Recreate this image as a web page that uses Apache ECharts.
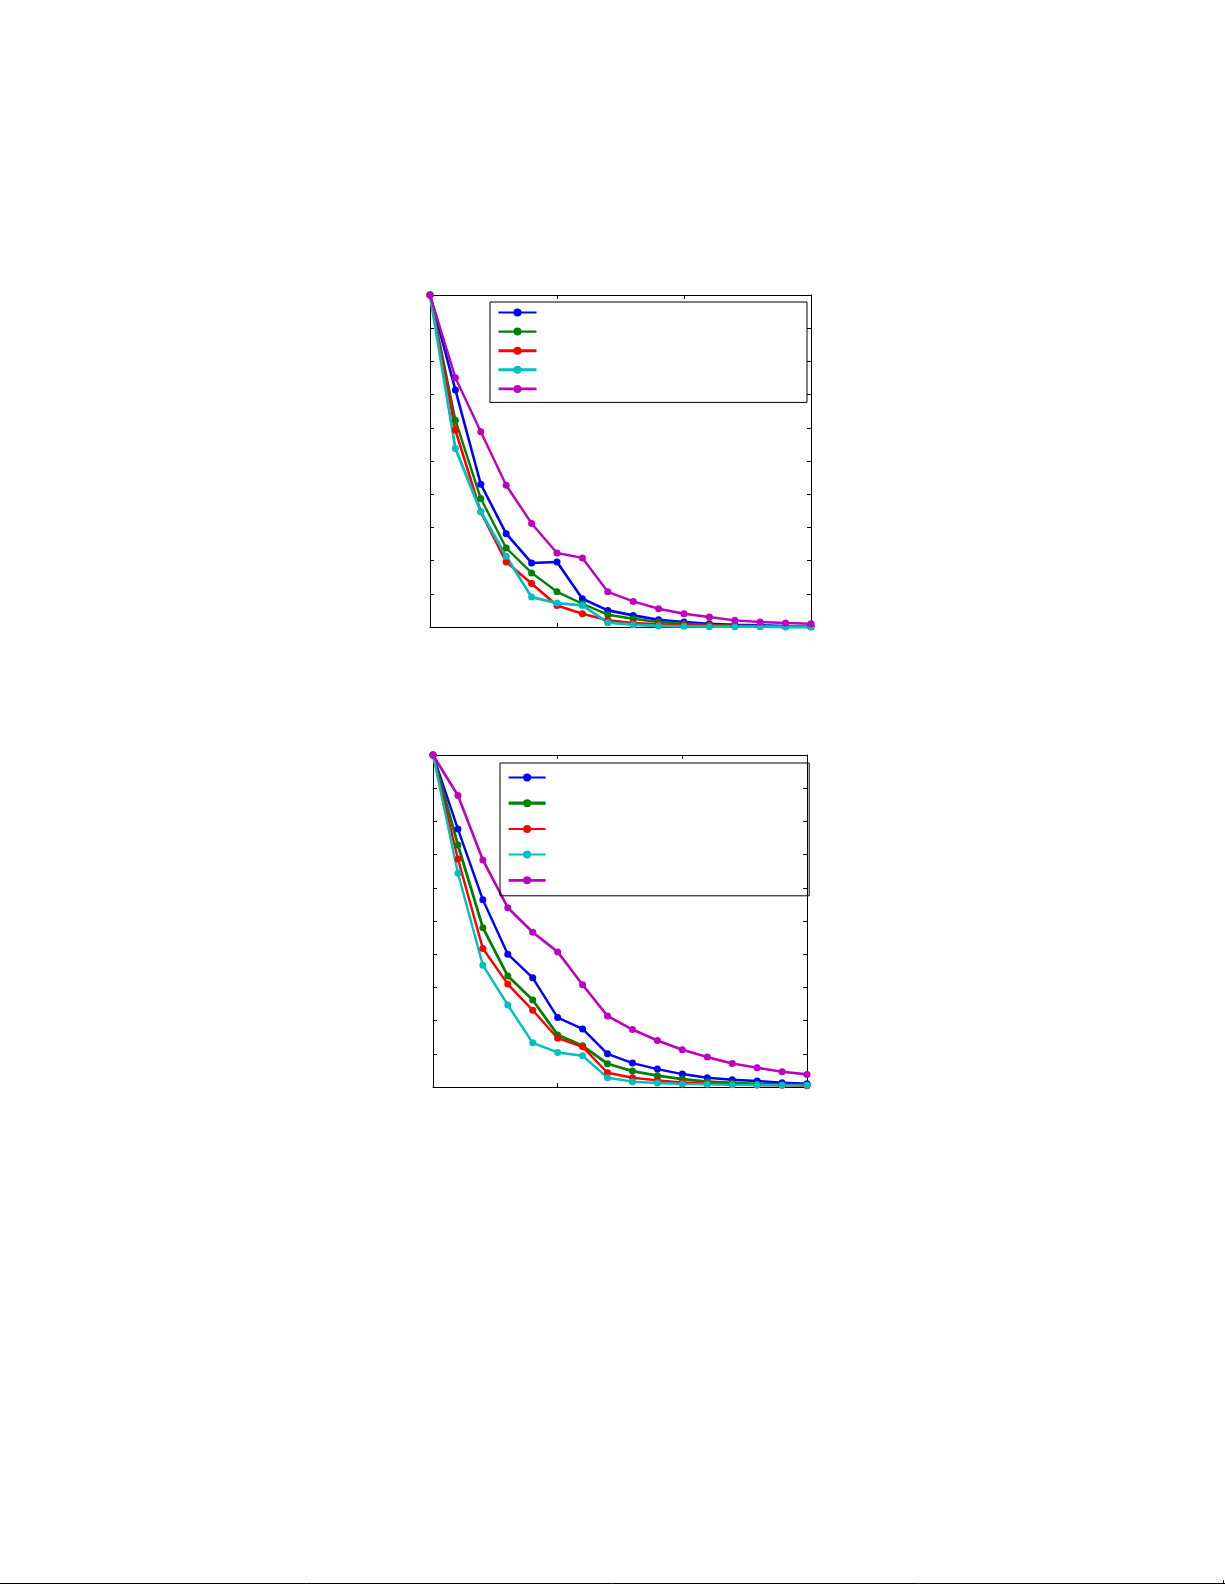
<!DOCTYPE html>
<html>
<head>
<meta charset="utf-8">
<script src="https://cdn.jsdelivr.net/npm/echarts@6/dist/echarts.min.js"></script>
<style>
  html, body { margin: 0; padding: 0; background: #fff; }
  #chart { width: 1225px; height: 1585px; }
</style>
</head>
<body>
<div id="chart"></div>
<script>
// x positions (iterations), ticks every 5
const steps = [0, 1, 2, 3, 4, 5, 6, 7, 8, 9, 10, 11, 12, 13, 14, 15];

// upper panel
const p1Blue    = [1.0, 0.714, 0.430, 0.281, 0.193, 0.196, 0.085, 0.050, 0.035, 0.022, 0.015, 0.010, 0.007, 0.005, 0.003, 0.002];
const p1Green   = [1.0, 0.623, 0.387, 0.238, 0.163, 0.106, 0.070, 0.037, 0.025, 0.015, 0.010, 0.006, 0.004, 0.003, 0.002, 0.001];
const p1Red     = [1.0, 0.593, 0.347, 0.196, 0.131, 0.065, 0.040, 0.020, 0.012, 0.008, 0.005, 0.004, 0.003, 0.002, 0.001, 0.001];
const p1Cyan    = [1.0, 0.538, 0.347, 0.213, 0.090, 0.072, 0.065, 0.013, 0.007, 0.003, 0.002, 0.001, 0.001, 0.001, 0.000, 0.000];
const p1Magenta = [1.0, 0.751, 0.588, 0.427, 0.312, 0.223, 0.208, 0.106, 0.077, 0.055, 0.040, 0.030, 0.020, 0.015, 0.012, 0.010];

// lower panel
const p2Blue    = [1.0, 0.777, 0.564, 0.400, 0.329, 0.209, 0.175, 0.100, 0.072, 0.054, 0.039, 0.028, 0.022, 0.018, 0.013, 0.010];
const p2Green   = [1.0, 0.729, 0.480, 0.334, 0.262, 0.157, 0.124, 0.070, 0.048, 0.034, 0.024, 0.016, 0.012, 0.009, 0.007, 0.006];
const p2Red     = [1.0, 0.687, 0.417, 0.310, 0.231, 0.147, 0.121, 0.043, 0.028, 0.020, 0.014, 0.010, 0.008, 0.006, 0.005, 0.004];
const p2Cyan    = [1.0, 0.644, 0.367, 0.247, 0.133, 0.104, 0.094, 0.028, 0.016, 0.012, 0.009, 0.008, 0.007, 0.006, 0.005, 0.005];
const p2Magenta = [1.0, 0.878, 0.684, 0.540, 0.466, 0.407, 0.308, 0.214, 0.173, 0.140, 0.112, 0.090, 0.071, 0.058, 0.046, 0.038];

const colors = ['#0000ff', '#008000', '#ff0000', '#00bfbf', '#bf00bf'];
// line widths in the plot and in the legend keys differ in the original
const p1Widths = [2.6, 2.4, 2.6, 2.8, 2.4];
const p2Widths = [2.4, 2.8, 2.4, 2.4, 2.6];
const p1KeyWidths = [2.2, 2.2, 3, 3, 2.8];
const p2KeyWidths = [2, 3.2, 2, 2, 2.8];

const pairs = vals => vals.map((v, i) => [steps[i], v]);

function axisPair(grid, pos, isX) {
  return {
    gridIndex: grid,
    type: 'value',
    position: pos,
    min: 0,
    max: isX ? 15 : 1,
    interval: isX ? 5 : 0.1,
    axisLine: { show: true, onZero: false, lineStyle: { color: '#000', width: 1 } },
    axisTick: { show: true, inside: true, length: 4, lineStyle: { color: '#000', width: 1 } },
    axisLabel: { show: false },
    splitLine: { show: false }
  };
}

function makeSeries(prefix, grid, sets, widths) {
  return sets.map((vals, k) => ({
    name: prefix + (k + 1),
    type: 'line',
    xAxisIndex: grid * 2,
    yAxisIndex: grid * 2,
    data: pairs(vals),
    symbol: 'circle',
    symbolSize: 7,
    clip: false,
    lineStyle: { color: colors[k], width: widths[k] },
    itemStyle: { color: colors[k] },
    emphasis: { disabled: true }
  }));
}

// legend entries carry their own line width
const legendItems = (prefix, widths) =>
  widths.map((w, k) => ({ name: prefix + (k + 1), lineStyle: { width: w } }));

const chart = echarts.init(document.getElementById('chart'), null, { renderer: 'canvas' });

const option = {
  animation: false,
  backgroundColor: '#fff',
  grid: [
    { left: 430, top: 295, width: 381, height: 332 },
    { left: 433, top: 755, width: 374, height: 332 }
  ],
  xAxis: [
    axisPair(0, 'bottom', true), axisPair(0, 'top', true),
    axisPair(1, 'bottom', true), axisPair(1, 'top', true)
  ],
  yAxis: [
    axisPair(0, 'left', false), axisPair(0, 'right', false),
    axisPair(1, 'left', false), axisPair(1, 'right', false)
  ],
  legend: [
    {
      data: legendItems('a', p1KeyWidths),
      orient: 'vertical',
      left: 490, top: 302,
      itemWidth: 38, itemHeight: 10, itemGap: 10.1,
      padding: [5.5, 269, 9.5, 7],
      borderColor: '#000', borderWidth: 1,
      formatter: () => '',
      selectedMode: false
    },
    {
      data: legendItems('b', p2KeyWidths),
      orient: 'vertical',
      left: 500, top: 763,
      itemWidth: 37, itemHeight: 10, itemGap: 16.7,
      padding: [9.5, 262, 11.5, 7],
      borderColor: '#000', borderWidth: 1,
      formatter: () => '',
      selectedMode: false
    }
  ],
  series: [
    ...makeSeries('a', 0, [p1Blue, p1Green, p1Red, p1Cyan, p1Magenta], p1Widths),
    ...makeSeries('b', 1, [p2Blue, p2Green, p2Red, p2Cyan, p2Magenta], p2Widths)
  ],
  graphic: [
    // page rule along the bottom edge
    { type: 'line', shape: { x1: 0, y1: 1583.5, x2: 1225, y2: 1583.5 }, style: { stroke: '#000', lineWidth: 1 } },
    { type: 'line', shape: { x1: 1223.5, y1: 1580, x2: 1223.5, y2: 1584 }, style: { stroke: '#000', lineWidth: 1 } }
  ]
};

chart.setOption(option);
</script>
</body>
</html>
